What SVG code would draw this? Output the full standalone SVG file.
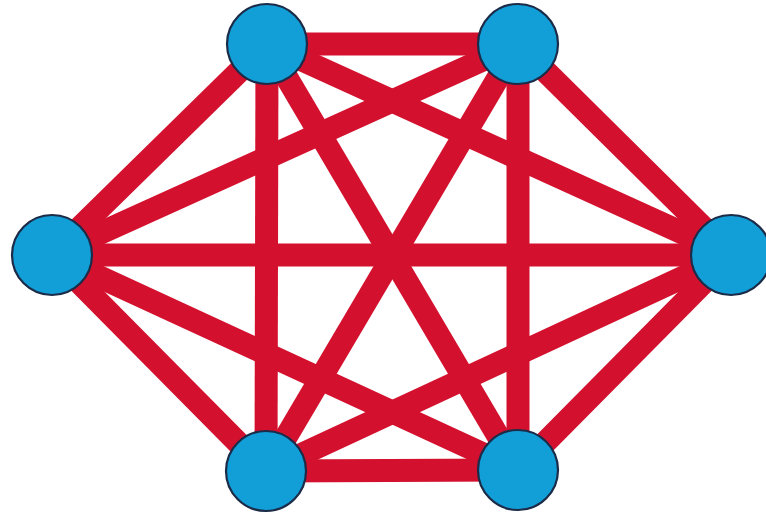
<svg xmlns="http://www.w3.org/2000/svg" width="766" height="516" viewBox="0 0 766 516">
<style>
.e{stroke:#d3112e;stroke-width:23;stroke-linecap:butt;fill:none}
.n{fill:#129fd8;stroke:#1b2b48;stroke-width:2.2}
</style>
<rect width="766" height="516" fill="#ffffff"/>
<g id="connectors">
<line class="e" x1="267" y1="44" x2="518" y2="44"/>
<line class="e" x1="267" y1="44" x2="52" y2="255"/>
<line class="e" x1="267" y1="44" x2="731" y2="255"/>
<line class="e" x1="267" y1="44" x2="266" y2="471"/>
<line class="e" x1="267" y1="44" x2="518" y2="470"/>
<line class="e" x1="518" y1="44" x2="52" y2="255"/>
<line class="e" x1="518" y1="44" x2="731" y2="255"/>
<line class="e" x1="518" y1="44" x2="266" y2="471"/>
<line class="e" x1="518" y1="44" x2="518" y2="470"/>
<line class="e" x1="52" y1="255" x2="731" y2="255"/>
<line class="e" x1="52" y1="255" x2="266" y2="471"/>
<line class="e" x1="52" y1="255" x2="518" y2="470"/>
<line class="e" x1="731" y1="255" x2="266" y2="471"/>
<line class="e" x1="731" y1="255" x2="518" y2="470"/>
<line class="e" x1="266" y1="471" x2="518" y2="470"/>
</g>
<g id="node-top-left"><circle class="n" cx="267" cy="44" r="40"/></g>
<g id="node-top-right"><circle class="n" cx="518" cy="44" r="40"/></g>
<g id="node-left"><circle class="n" cx="52" cy="255" r="40"/></g>
<g id="node-right"><circle class="n" cx="731" cy="255" r="40"/></g>
<g id="node-bottom-left"><circle class="n" cx="266" cy="471" r="40"/></g>
<g id="node-bottom-right"><circle class="n" cx="518" cy="470" r="40"/></g>
</svg>
